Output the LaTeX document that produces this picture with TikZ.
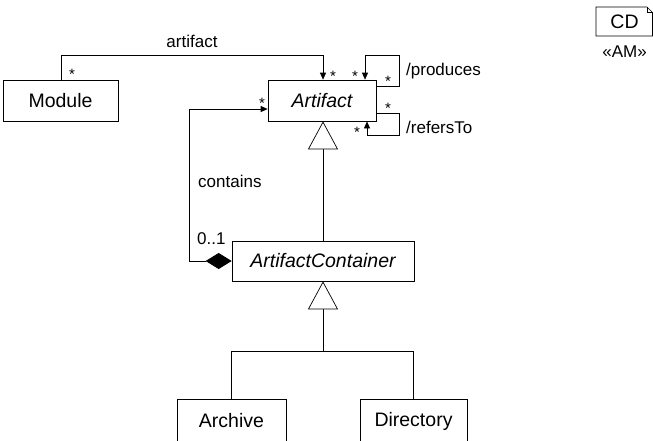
\documentclass[tikz,border=0pt]{standalone}
\usepackage{fontspec}
\setmainfont{Liberation Sans}
\usetikzlibrary{arrows.meta}
\begin{document}
\begin{tikzpicture}[x=1pt,y=-1pt,
  cls/.style={draw,line width=0.7pt,rectangle,inner sep=0pt,font=\fontsize{19.5}{22}\selectfont},
  lbl/.style={inner sep=0pt,font=\fontsize{17}{20}\selectfont},
  mult/.style={inner sep=0pt,font=\fontsize{15}{17}\selectfont},
  line/.style={line width=0.7pt},
  arr/.style={line,-{Triangle[length=7pt,width=6pt]}},
  gen/.style={line,-{Triangle[open,length=28pt,width=30pt,fill=white]}},
  comp/.style={line,{Diamond[length=26pt,width=16pt]}-{Triangle[length=7pt,width=6pt]}}]
\useasboundingbox (0,0) rectangle (653,440);
\clip (0,0) rectangle (653,440);
% classes
\node[cls,minimum width=115pt,minimum height=41pt] (module) at (60.5,100.5) {Module};
\node[cls,minimum width=108pt,minimum height=41pt] (artifact) at (322,100.5) {\itshape Artifact};
\node[cls,minimum width=182pt,minimum height=40pt] (ac) at (323,261) {\itshape ArtifactContainer};
\node[cls,minimum width=109pt,minimum height=44pt] (archive) at (231.5,421) {Archive};
\node[cls,minimum width=107pt,minimum height=44pt] (directory) at (413.5,421) {Directory};
% diagram frame tag
\node[inner sep=0pt,font=\fontsize{19.5}{22}\selectfont] (cd) at (624.5,22) {CD};
\draw[line] (596,7) -- (647,7) -- (652.5,12.5) -- (652.5,36) -- (596,36) -- cycle;
\draw[line,line width=0.5pt] (647,7) -- (647,12.5) -- (652.5,12.5);
\node[lbl,anchor=base] (am) at (624.5,57) {«AM»};
% association artifact
\draw[arr] (module.north -| 61,0) |- (323,55) -- (artifact.north -| 323,0);
\node[lbl,anchor=base] (lartifact) at (192,47) {artifact};
\node[mult] (m1) at (72,74) {*};
\node[mult] (m2) at (333,76) {*};
% produces
\draw[arr] ([yshift=-7pt]artifact.north east) -- ++(23,0) |- (365,55) -- (artifact.north -| 365,0);
\node[mult] (m3) at (355,76) {*};
\node[mult] (m4) at (388,81) {*};
\node[lbl,anchor=base west] (lprod) at (406,75) {/produces};
% refersTo
\draw[arr] ([yshift=8pt]artifact.south east) -- ++(23,0) |- (367,135) -- (artifact.south -| 367,0);
\node[mult] (m5) at (388,108) {*};
\node[mult] (m6) at (357,132) {*};
\node[lbl,anchor=base west] (lref) at (406,133) {/refersTo};
% contains
\draw[comp] (ac.west) -- (189,261) |- ([yshift=-8.5pt]artifact.west);
\node[mult] (m7) at (262,103) {*};
\node[lbl,anchor=base west] (lcont) at (198,187) {contains};
\node[lbl,anchor=base west] (l01) at (197,244) {0..1};
% generalizations
\draw[gen] (ac.north) -- (ac.north |- artifact.south);
\draw[line] (archive.north) |- (directory.north |- 0,351) -- (directory.north);
\draw[gen] (ac.south |- 0,351) -- (ac.south);
\end{tikzpicture}
\end{document}
